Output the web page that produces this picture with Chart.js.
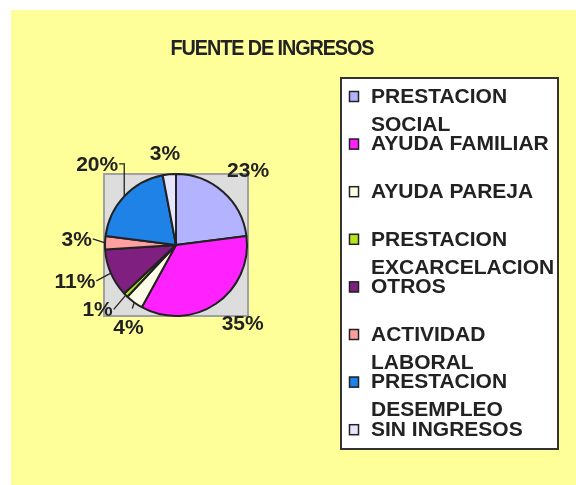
<!DOCTYPE html>
<html>
<head>
<meta charset="utf-8">
<script src="https://cdn.jsdelivr.net/npm/chart.js@4"></script>
<style>
  body { margin: 0; background: #fff; }
  #wrap { width: 576px; height: 485px; }
</style>
</head>
<body>
<div id="wrap"><canvas id="chart" width="576" height="485"></canvas></div>
<script>
const title = "FUENTE DE INGRESOS"
const categories = ["PRESTACION SOCIAL", "AYUDA FAMILIAR", "AYUDA PAREJA", "PRESTACION EXCARCELACION",
  "OTROS", "ACTIVIDAD LABORAL", "PRESTACION DESEMPLEO", "SIN INGRESOS"]
const legendLines = [["PRESTACION", "SOCIAL"], ["AYUDA FAMILIAR"], ["AYUDA PAREJA"], ["PRESTACION", "EXCARCELACION"],
  ["OTROS"], ["ACTIVIDAD", "LABORAL"], ["PRESTACION", "DESEMPLEO"], ["SIN INGRESOS"]]
const values = [23, 35, 4, 1, 11, 3, 20, 3]
const colors = ["#b3b3ff", "#ff22ff", "#ffffe8", "#b5e61d", "#7f1f7f", "#ffa0a0", "#1e82e6", "#e6e6ff"]
// slices whose label gets a leader line
const leaders = [2, 3, 4, 5, 6]
// small hand moves of the labels, like the ones dragged in the original
const nudge = [[2, 5], [8, -8], [12, 0], [-6, -8], [-2, -7], [2, -3], [-1, -8], [-2, 3]]

const font = (size) => "bold " + size + "px 'Liberation Sans', Arial, sans-serif"

const backdrop = {
  id: "backdrop",
  beforeDraw(chart) {
    const ctx = chart.ctx
    ctx.save()
    ctx.fillStyle = "#ffffff"
    ctx.fillRect(0, 0, 576, 485)
    ctx.fillStyle = "#ffff99"
    ctx.fillRect(11, 10, 565, 475)
    // grey square behind the pie
    const arc = chart.getDatasetMeta(0).data[0]
    const r = arc.outerRadius
    ctx.fillStyle = "#dddddd"
    ctx.fillRect(arc.x - r - 1, arc.y - r, 2 * r + 2, 2 * r)
    ctx.strokeStyle = "#a0a0a0"
    ctx.lineWidth = 2
    ctx.strokeRect(arc.x - r - 1, arc.y - r, 2 * r + 2, 2 * r)
    ctx.restore()
  },
  afterDraw(chart) {
    const ctx = chart.ctx
    ctx.save()
    ctx.fillStyle = "#222"
    ctx.textBaseline = "middle"
    ctx.textAlign = "center"

    // title, a bit narrow like the original
    ctx.save()
    ctx.font = font(22)
    ctx.letterSpacing = "-1.2px"
    ctx.translate(272, 49)
    ctx.scale(0.9, 1)
    ctx.fillText(title, 0, 0)
    ctx.restore()

    // percentage labels
    ctx.font = font(21)
    const total = values.reduce((a, b) => a + b, 0)
    const meta = chart.getDatasetMeta(0)
    meta.data.forEach((arc, i) => {
      const txt = Math.round(values[i] / total * 100) + "%"
      const mid = (arc.startAngle + arc.endAngle) / 2
      const cs = Math.cos(mid), sn = Math.sin(mid)
      const hw = ctx.measureText(txt).width / 2, hh = 8
      const d = arc.outerRadius + 15 + hw * Math.abs(cs) + hh * Math.abs(sn)
      const lx = arc.x + d * cs + nudge[i][0], ly = arc.y + d * sn + nudge[i][1]
      ctx.fillText(txt, lx, ly + 1)
      if (leaders.includes(i)) {
        const ax = arc.x + arc.outerRadius * cs, ay = arc.y + arc.outerRadius * sn
        ctx.strokeStyle = "#222"
        ctx.lineWidth = 1.3
        ctx.beginPath()
        ctx.moveTo(ax, ay)
        if (i == 6) {
          ctx.lineTo(ax, ly)
          ctx.lineTo(lx + hw + 1, ly)
        } else if (i == 2) {
          ctx.lineTo(ax - 2, ay + 6)
        } else {
          ctx.lineTo(lx + (cs < 0 ? hw + 1 : -hw - 1), ly)
        }
        ctx.stroke()
      }
    })

    // legend box
    ctx.fillStyle = "#ffffff"
    ctx.fillRect(341, 78, 217, 371)
    ctx.strokeStyle = "#333"
    ctx.lineWidth = 2
    ctx.strokeRect(341, 78, 217, 371)
    ctx.textAlign = "left"
    ctx.font = font(21)
    legendLines.forEach((lines, i) => {
      const y = 96 + i * 47.6
      ctx.fillStyle = colors[i]
      ctx.fillRect(349, y - 5, 10, 11)
      ctx.strokeStyle = "#222"
      ctx.lineWidth = 1.5
      ctx.strokeRect(349.5, y - 4.5, 9, 10)
      ctx.fillStyle = "#222"
      lines.forEach((t, j) => ctx.fillText(t, 371, y + 1 + j * 28))
    })
    ctx.restore()
  }
}

new Chart("chart", {
  type: "pie",
  data: {
    labels: categories,
    datasets: [{
      data: values,
      backgroundColor: colors,
      borderColor: "#222",
      borderWidth: 2
    }]
  },
  options: {
    responsive: false,
    animation: false,
    devicePixelRatio: 1,
    layout: { padding: { left: 104, right: 328, top: 173, bottom: 168 } },
    plugins: {
      legend: { display: false },
      title: { display: false },
      tooltip: { enabled: false }
    }
  },
  plugins: [backdrop]
})
</script>
</body>
</html>
